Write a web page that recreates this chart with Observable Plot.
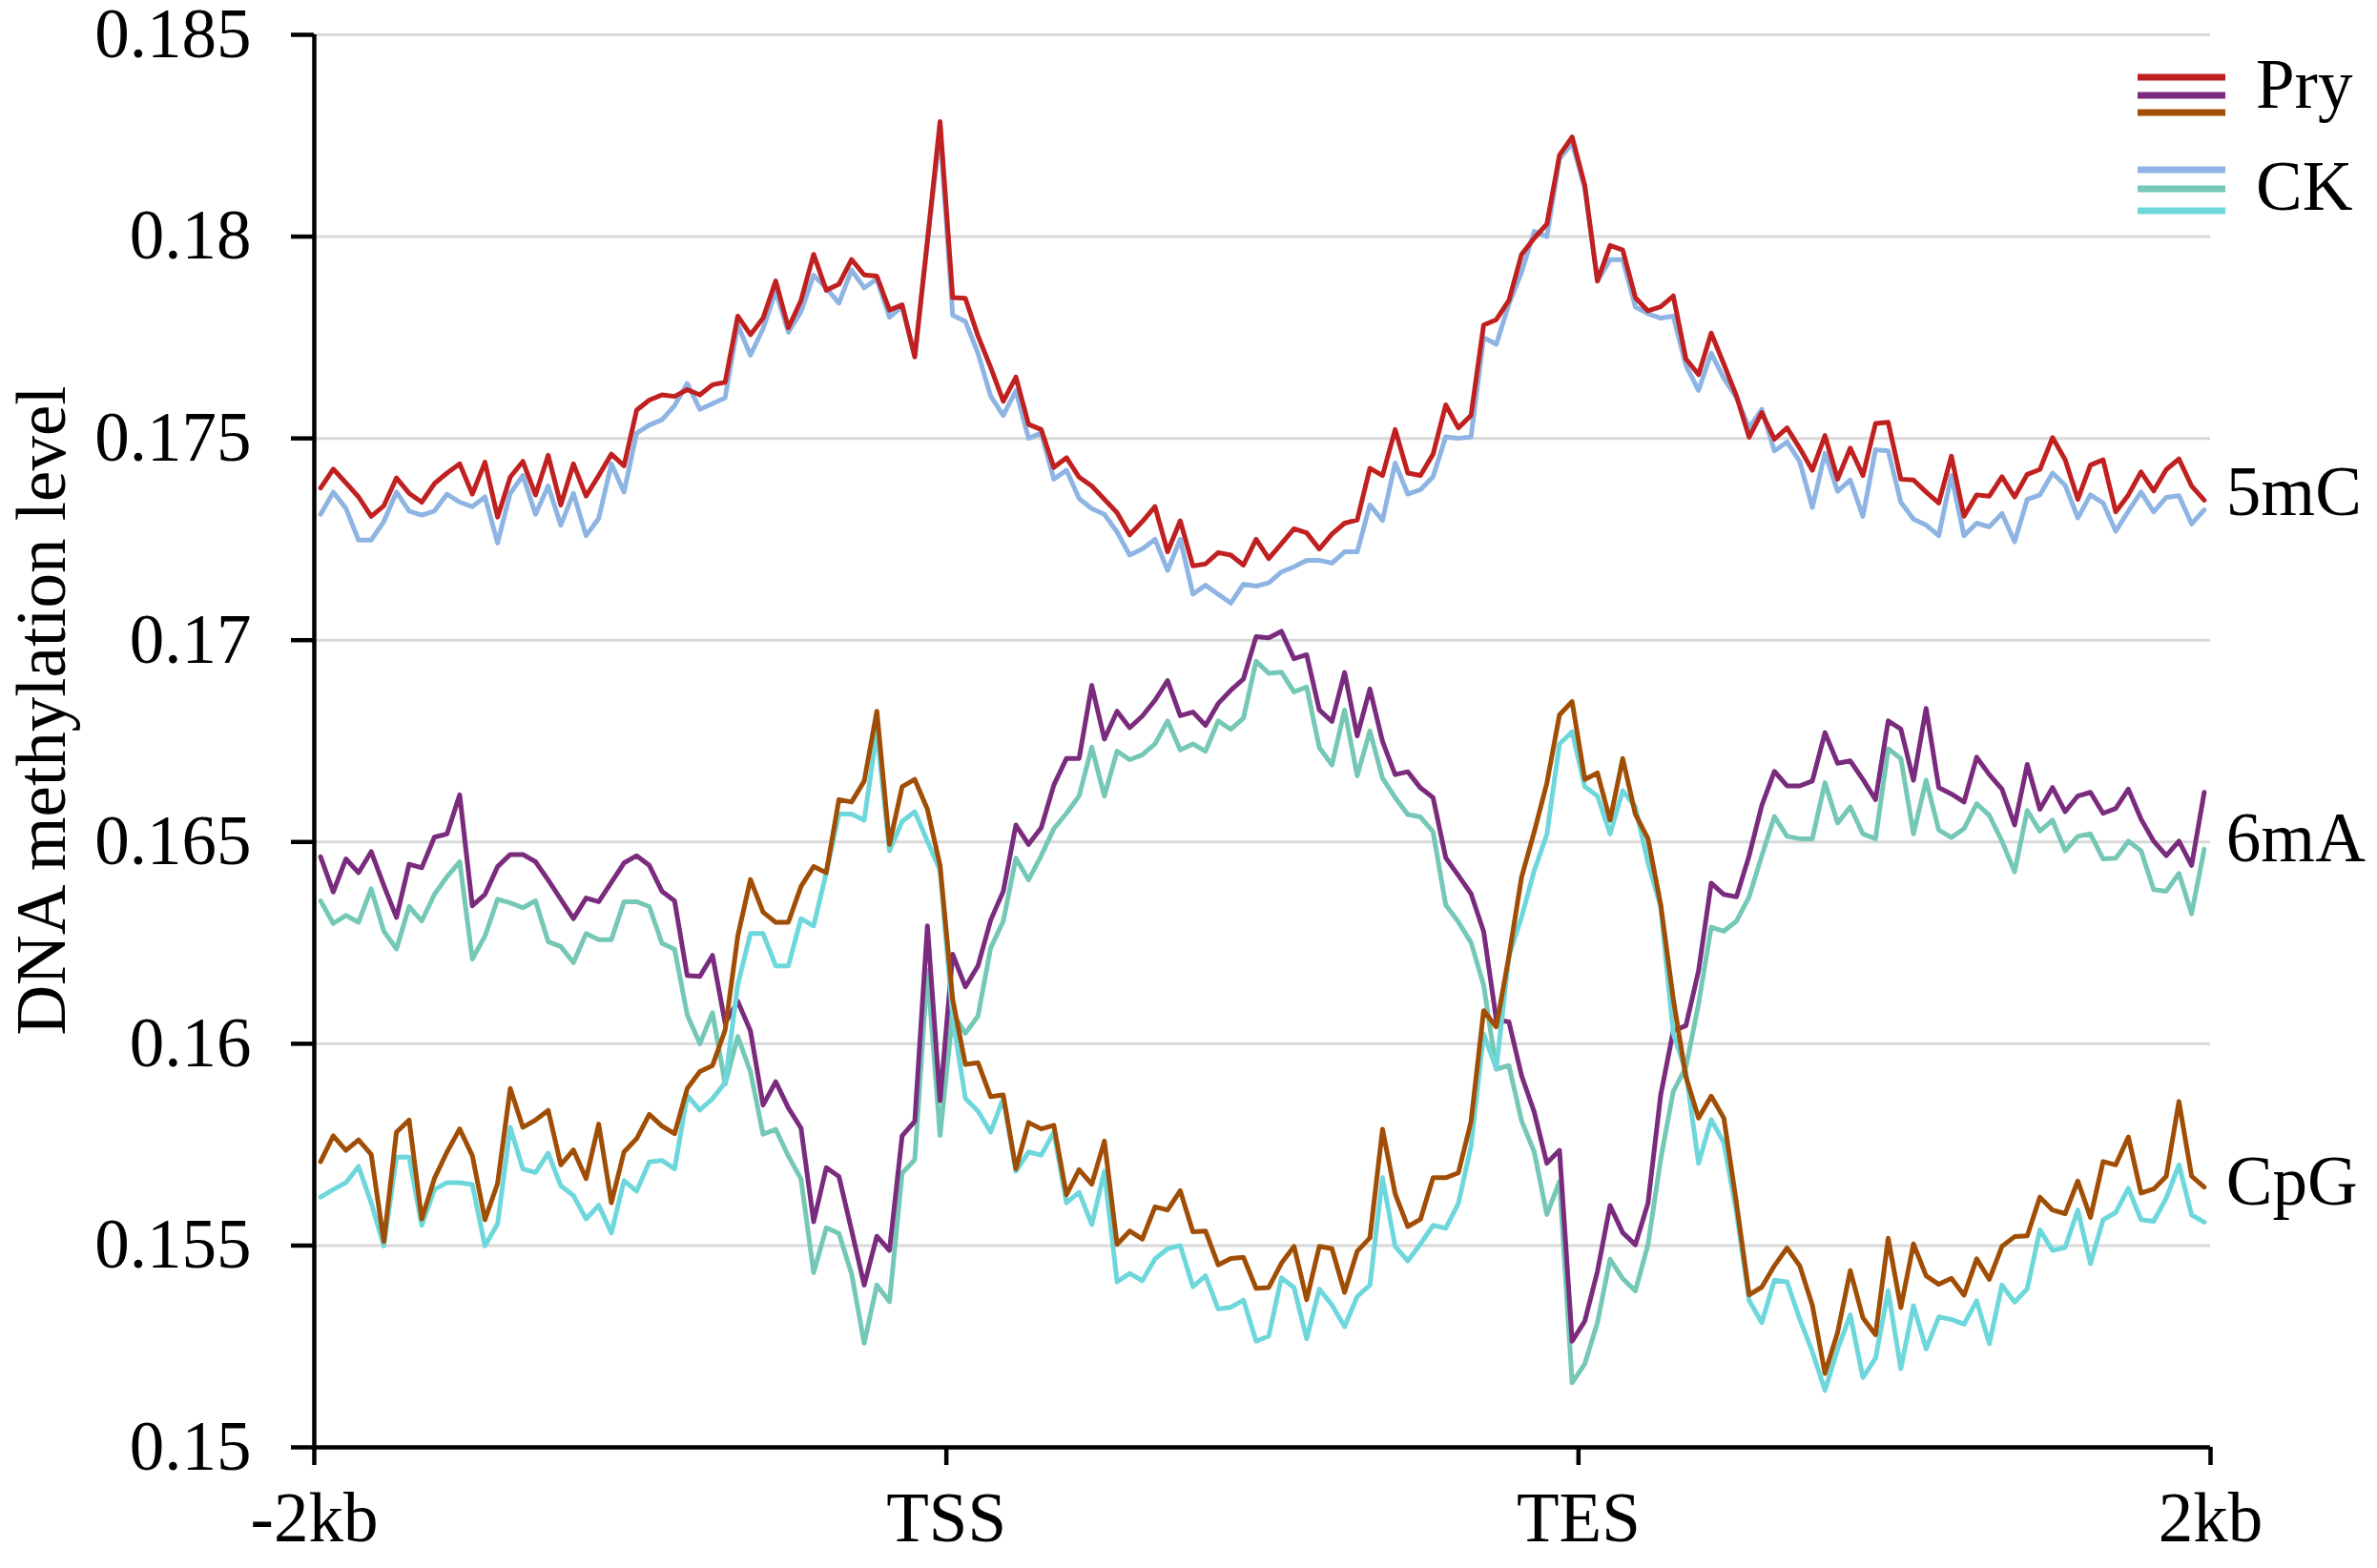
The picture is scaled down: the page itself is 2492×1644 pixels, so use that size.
<!DOCTYPE html>
<html>
<head>
<meta charset="utf-8">
<script src="https://cdn.jsdelivr.net/npm/d3@7"></script>
<script src="https://cdn.jsdelivr.net/npm/@observablehq/plot@0.6"></script>
<style>
  html, body { margin: 0; padding: 0; background: #fff; overflow: hidden; }
  #chart svg { display: block; }
</style>
</head>
<body>
<div id="chart"></div>
<script>
// ---- data ----
// 150 bins: 50 upstream (-2kb..TSS), 50 gene body (TSS..TES), 50 downstream (TES..2kb)
const xTickPositions = [-0.5, 49.5, 99.5, 149.5];
const xTickLabels = ["-2kb", "TSS", "TES", "2kb"];
const yTicks = [0.15, 0.155, 0.16, 0.165, 0.17, 0.175, 0.18, 0.185];
const groupLabels = ["5mC", "6mA", "CpG"];
const legendLabels = ["Pry", "CK"];

const pry5mC = [
  0.17377, 0.17424, 0.17390, 0.17355, 0.17307, 0.17333, 0.17402, 0.17364, 0.17342, 0.17388,
  0.17414, 0.17437, 0.17362, 0.17441, 0.17305, 0.17404, 0.17443, 0.17360, 0.17458, 0.17335,
  0.17437, 0.17357, 0.17408, 0.17461, 0.17432, 0.17570, 0.17595, 0.17608, 0.17604, 0.17621,
  0.17608, 0.17633, 0.17639, 0.17803, 0.17757, 0.17798, 0.17890, 0.17774, 0.17842, 0.17956,
  0.17867, 0.17882, 0.17943, 0.17905, 0.17902, 0.17818, 0.17831, 0.17702, 0.17990, 0.18285,
  0.17849, 0.17847, 0.17754, 0.17676, 0.17592, 0.17652, 0.17535, 0.17522, 0.17428, 0.17452,
  0.17404, 0.17382, 0.17349, 0.17316, 0.17261, 0.17294, 0.17331, 0.17219, 0.17296, 0.17184,
  0.17189, 0.17217, 0.17211, 0.17186, 0.17250, 0.17202, 0.17239, 0.17276, 0.17266, 0.17226,
  0.17263, 0.17290, 0.17298, 0.17426, 0.17408, 0.17522, 0.17414, 0.17408, 0.17461, 0.17583,
  0.17526, 0.17557, 0.17781, 0.17794, 0.17842, 0.17956, 0.17996, 0.18031, 0.18202, 0.18247,
  0.18127, 0.17890, 0.17978, 0.17967, 0.17849, 0.17816, 0.17826, 0.17853, 0.17697, 0.17658,
  0.17761, 0.17684, 0.17605, 0.17503, 0.17564, 0.17498, 0.17526, 0.17476, 0.17421, 0.17507,
  0.17399, 0.17476, 0.17408, 0.17537, 0.17540, 0.17399, 0.17397, 0.17367, 0.17340, 0.17456,
  0.17307, 0.17360, 0.17357, 0.17405, 0.17355, 0.17411, 0.17423, 0.17502, 0.17447, 0.17349,
  0.17434, 0.17447, 0.17318, 0.17360, 0.17417, 0.17370, 0.17423, 0.17449, 0.17382, 0.17347
];
const ck5mC = [
  0.17312, 0.17367, 0.17327, 0.17248, 0.17248, 0.17294, 0.17367, 0.17320, 0.17310, 0.17320,
  0.17362, 0.17342, 0.17331, 0.17355, 0.17241, 0.17364, 0.17408, 0.17312, 0.17382, 0.17285,
  0.17364, 0.17259, 0.17302, 0.17437, 0.17367, 0.17513, 0.17533, 0.17546, 0.17581, 0.17636,
  0.17572, 0.17586, 0.17601, 0.17781, 0.17706, 0.17772, 0.17864, 0.17763, 0.17814, 0.17904,
  0.17873, 0.17835, 0.17917, 0.17873, 0.17895, 0.17800, 0.17827, 0.17702, 0.17985, 0.18260,
  0.17805, 0.17790, 0.17711, 0.17605, 0.17557, 0.17618, 0.17500, 0.17513, 0.17399, 0.17421,
  0.17351, 0.17326, 0.17312, 0.17268, 0.17211, 0.17226, 0.17250, 0.17173, 0.17250, 0.17114,
  0.17136, 0.17114, 0.17092, 0.17139, 0.17134, 0.17142, 0.17169, 0.17182, 0.17198, 0.17198,
  0.17191, 0.17219, 0.17219, 0.17335, 0.17297, 0.17439, 0.17362, 0.17373, 0.17405, 0.17504,
  0.17500, 0.17504, 0.17750, 0.17733, 0.17833, 0.17912, 0.18013, 0.18000, 0.18193, 0.18232,
  0.18120, 0.17890, 0.17943, 0.17943, 0.17826, 0.17809, 0.17798, 0.17803, 0.17680, 0.17619,
  0.17711, 0.17649, 0.17601, 0.17526, 0.17572, 0.17469, 0.17491, 0.17443, 0.17329, 0.17463,
  0.17369, 0.17397, 0.17307, 0.17472, 0.17469, 0.17342, 0.17300, 0.17285, 0.17259, 0.17408,
  0.17259, 0.17290, 0.17281, 0.17314, 0.17244, 0.17349, 0.17360, 0.17414, 0.17384, 0.17303,
  0.17360, 0.17340, 0.17270, 0.17320, 0.17367, 0.17318, 0.17354, 0.17358, 0.17288, 0.17323
];
const pry6mA = [
  0.16463, 0.16376, 0.16458, 0.16424, 0.16476, 0.16392, 0.16313, 0.16445, 0.16436, 0.16512,
  0.16520, 0.16617, 0.16342, 0.16370, 0.16439, 0.16469, 0.16469, 0.16451, 0.16406, 0.16358,
  0.16310, 0.16361, 0.16352, 0.16400, 0.16448, 0.16466, 0.16442, 0.16378, 0.16354, 0.16169,
  0.16167, 0.16219, 0.16051, 0.16105, 0.16032, 0.15848, 0.15906, 0.15841, 0.15791, 0.15559,
  0.15693, 0.15671, 0.15538, 0.15402, 0.15523, 0.15488, 0.15772, 0.15808, 0.16292, 0.15859,
  0.16222, 0.16141, 0.16193, 0.16306, 0.16378, 0.16542, 0.16494, 0.16535, 0.16641, 0.16707,
  0.16707, 0.16888, 0.16755, 0.16824, 0.16783, 0.16812, 0.16851, 0.16900, 0.16813, 0.16822,
  0.16789, 0.16843, 0.16876, 0.16904, 0.17009, 0.17006, 0.17022, 0.16954, 0.16964, 0.16827,
  0.16799, 0.16920, 0.16763, 0.16879, 0.16749, 0.16667, 0.16674, 0.16634, 0.16610, 0.16461,
  0.16417, 0.16372, 0.16278, 0.16060, 0.16054, 0.15921, 0.15831, 0.15704, 0.15736, 0.15263,
  0.15313, 0.15436, 0.15599, 0.15532, 0.15502, 0.15605, 0.15872, 0.16032, 0.16045, 0.16181,
  0.16398, 0.16370, 0.16364, 0.16466, 0.16590, 0.16675, 0.16639, 0.16639, 0.16651, 0.16771,
  0.16695, 0.16701, 0.16655, 0.16605, 0.16800, 0.16780, 0.16653, 0.16831, 0.16635, 0.16619,
  0.16599, 0.16710, 0.16667, 0.16631, 0.16542, 0.16692, 0.16581, 0.16635, 0.16575, 0.16614,
  0.16623, 0.16571, 0.16583, 0.16631, 0.16557, 0.16502, 0.16466, 0.16502, 0.16442, 0.16623
];
const ck6mA = [
  0.16354, 0.16298, 0.16318, 0.16301, 0.16384, 0.16279, 0.16235, 0.16340, 0.16304, 0.16370,
  0.16414, 0.16451, 0.16210, 0.16267, 0.16358, 0.16349, 0.16337, 0.16354, 0.16253, 0.16241,
  0.16201, 0.16273, 0.16258, 0.16258, 0.16352, 0.16352, 0.16340, 0.16249, 0.16234, 0.16072,
  0.16000, 0.16077, 0.15900, 0.16018, 0.15931, 0.15776, 0.15788, 0.15722, 0.15665, 0.15433,
  0.15544, 0.15530, 0.15430, 0.15258, 0.15402, 0.15361, 0.15679, 0.15713, 0.16183, 0.15773,
  0.16075, 0.16026, 0.16069, 0.16237, 0.16304, 0.16460, 0.16406, 0.16466, 0.16533, 0.16571,
  0.16614, 0.16735, 0.16614, 0.16725, 0.16704, 0.16716, 0.16743, 0.16800, 0.16728, 0.16743,
  0.16725, 0.16800, 0.16779, 0.16807, 0.16948, 0.16918, 0.16921, 0.16872, 0.16884, 0.16734,
  0.16691, 0.16827, 0.16664, 0.16775, 0.16658, 0.16610, 0.16568, 0.16562, 0.16525, 0.16344,
  0.16302, 0.16251, 0.16145, 0.15937, 0.15946, 0.15809, 0.15732, 0.15577, 0.15659, 0.15160,
  0.15207, 0.15309, 0.15466, 0.15418, 0.15388, 0.15502, 0.15713, 0.15882, 0.15942, 0.16099,
  0.16289, 0.16279, 0.16304, 0.16364, 0.16466, 0.16563, 0.16514, 0.16508, 0.16508, 0.16647,
  0.16547, 0.16587, 0.16520, 0.16508, 0.16731, 0.16707, 0.16520, 0.16653, 0.16530, 0.16511,
  0.16533, 0.16595, 0.16566, 0.16502, 0.16426, 0.16578, 0.16527, 0.16554, 0.16478, 0.16514,
  0.16520, 0.16458, 0.16460, 0.16502, 0.16478, 0.16382, 0.16378, 0.16422, 0.16322, 0.16482
];
const pryCpG = [
  0.15708, 0.15772, 0.15736, 0.15762, 0.15726, 0.15510, 0.15781, 0.15811, 0.15566, 0.15666,
  0.15732, 0.15789, 0.15723, 0.15564, 0.15654, 0.15889, 0.15793, 0.15811, 0.15835, 0.15700,
  0.15737, 0.15666, 0.15801, 0.15606, 0.15732, 0.15765, 0.15825, 0.15796, 0.15777, 0.15889,
  0.15931, 0.15946, 0.16034, 0.16267, 0.16407, 0.16326, 0.16301, 0.16301, 0.16390, 0.16439,
  0.16424, 0.16605, 0.16599, 0.16651, 0.16824, 0.16494, 0.16637, 0.16655, 0.16581, 0.16442,
  0.16110, 0.15949, 0.15953, 0.15869, 0.15873, 0.15690, 0.15805, 0.15789, 0.15798, 0.15626,
  0.15688, 0.15652, 0.15759, 0.15503, 0.15536, 0.15516, 0.15596, 0.15588, 0.15636, 0.15534,
  0.15536, 0.15452, 0.15468, 0.15471, 0.15394, 0.15396, 0.15456, 0.15498, 0.15366, 0.15498,
  0.15492, 0.15384, 0.15486, 0.15519, 0.15788, 0.15628, 0.15547, 0.15565, 0.15668, 0.15668,
  0.15680, 0.15807, 0.16082, 0.16042, 0.16217, 0.16413, 0.16525, 0.16646, 0.16815, 0.16848,
  0.16655, 0.16671, 0.16554, 0.16707, 0.16569, 0.16508, 0.16346, 0.16111, 0.15918, 0.15816,
  0.15870, 0.15816, 0.15605, 0.15378, 0.15397, 0.15450, 0.15494, 0.15450, 0.15352, 0.15183,
  0.15285, 0.15438, 0.15321, 0.15279, 0.15518, 0.15346, 0.15504, 0.15425, 0.15404, 0.15419,
  0.15377, 0.15467, 0.15416, 0.15498, 0.15522, 0.15524, 0.15620, 0.15588, 0.15579, 0.15660,
  0.15570, 0.15708, 0.15700, 0.15769, 0.15630, 0.15640, 0.15672, 0.15857, 0.15672, 0.15645
];
const ckCpG = [
  0.15620, 0.15639, 0.15656, 0.15696, 0.15606, 0.15499, 0.15719, 0.15719, 0.15550, 0.15639,
  0.15656, 0.15656, 0.15651, 0.15499, 0.15554, 0.15793, 0.15690, 0.15681, 0.15729, 0.15648,
  0.15624, 0.15566, 0.15600, 0.15531, 0.15661, 0.15635, 0.15707, 0.15711, 0.15690, 0.15872,
  0.15836, 0.15864, 0.15904, 0.16147, 0.16273, 0.16273, 0.16193, 0.16193, 0.16310, 0.16292,
  0.16424, 0.16569, 0.16569, 0.16554, 0.16774, 0.16478, 0.16551, 0.16575, 0.16502, 0.16430,
  0.16064, 0.15865, 0.15833, 0.15781, 0.15865, 0.15684, 0.15732, 0.15724, 0.15781, 0.15606,
  0.15632, 0.15552, 0.15684, 0.15410, 0.15431, 0.15413, 0.15467, 0.15492, 0.15500, 0.15398,
  0.15425, 0.15343, 0.15347, 0.15365, 0.15263, 0.15276, 0.15420, 0.15396, 0.15269, 0.15392,
  0.15353, 0.15299, 0.15374, 0.15402, 0.15668, 0.15498, 0.15462, 0.15504, 0.15550, 0.15543,
  0.15604, 0.15746, 0.16024, 0.15939, 0.16217, 0.16314, 0.16429, 0.16519, 0.16743, 0.16773,
  0.16637, 0.16614, 0.16520, 0.16627, 0.16587, 0.16448, 0.16340, 0.16026, 0.15930, 0.15704,
  0.15812, 0.15755, 0.15581, 0.15364, 0.15309, 0.15414, 0.15410, 0.15318, 0.15237, 0.15141,
  0.15243, 0.15328, 0.15173, 0.15221, 0.15388, 0.15195, 0.15351, 0.15244, 0.15323, 0.15317,
  0.15305, 0.15363, 0.15257, 0.15402, 0.15360, 0.15393, 0.15539, 0.15488, 0.15495, 0.15588,
  0.15455, 0.15564, 0.15582, 0.15642, 0.15564, 0.15560, 0.15618, 0.15700, 0.15576, 0.15558
];

// ---- styles ----
const FONT = "'Liberation Serif', 'Times New Roman', serif";
const FS = 73;
const colors = {
  pry5mC: "#c0201f", ck5mC: "#8eb4e3",
  pry6mA: "#7a2b7d", ck6mA: "#74c8b5",
  pryCpG: "#a04e05", ckCpG: "#6dd7dc"
};
const LW = 5;

const series = [
  {data: ck5mC, color: colors.ck5mC},
  {data: pry5mC, color: colors.pry5mC},
  {data: ck6mA, color: colors.ck6mA},
  {data: pry6mA, color: colors.pry6mA},
  {data: ckCpG, color: colors.ckCpG},
  {data: pryCpG, color: colors.pryCpG}
];

// group labels placed beside the line ends
const lastIdx = pry5mC.length - 1;
const labelRows = [
  {label: groupLabels[0], y: (pry5mC[lastIdx] + ck5mC[lastIdx]) / 2, dy: -13},
  {label: groupLabels[1], y: (pry6mA[lastIdx] + ck6mA[lastIdx]) / 2, dy: 19},
  {label: groupLabels[2], y: (pryCpG[lastIdx] + ckCpG[lastIdx]) / 2, dy: -23}
];

const fmt = d3.format(".3~f");

const chart = Plot.plot({
  width: 2492,
  height: 1644,
  marginLeft: 329,
  marginRight: 175,
  marginTop: 36,
  marginBottom: 127,
  style: {fontFamily: FONT, fontSize: FS + "px", background: "#fff", color: "#000"},
  x: {domain: [xTickPositions[0], xTickPositions[3]]},
  y: {domain: [0.15, 0.185]},
  marks: [
    Plot.gridY(yTicks, {stroke: "#d9d9d9", strokeOpacity: 1, strokeWidth: 3}),
    Plot.axisY({
      ticks: yTicks, tickFormat: fmt, tickSize: 24, tickPadding: 42,
      strokeWidth: 4.5, fontSize: FS, label: null
    }),
    Plot.axisX({
      ticks: xTickPositions, tickFormat: (d) => xTickLabels[xTickPositions.indexOf(d)],
      tickSize: 19, tickPadding: 28, strokeWidth: 4.5, fontSize: FS, label: null
    }),
    ...series.map(s => Plot.line(s.data, {
      x: (d, i) => i, y: (d) => d, stroke: s.color, strokeWidth: LW,
      strokeLinejoin: "round", strokeLinecap: "round"
    })),
    Plot.ruleX([xTickPositions[0]], {strokeWidth: 4.5, stroke: "#000"}),
    Plot.ruleY([0.15], {strokeWidth: 4.5, stroke: "#000"}),
    ...labelRows.map(r => Plot.text([r], {
      x: () => lastIdx, y: "y", text: "label", textAnchor: "start",
      dx: 23, dy: r.dy, fontSize: FS, lineAnchor: "middle", fill: "#000"
    })),
    Plot.text(["DNA methylation level"], {
      frameAnchor: "left", textAnchor: "middle", dx: -285, dy: -32,
      rotate: -90, fontSize: FS, fill: "#000"
    })
  ]
});

document.getElementById("chart").appendChild(chart);

// ---- legend (drawn inside the plot area, top right) ----
const svg = d3.select(chart);
const lg = svg.append("g").attr("class", "legend");
const groups = [
  {label: legendLabels[0], cols: [colors.pry5mC, colors.pry6mA, colors.pryCpG], ys: [81, 100, 118], ty: 113},
  {label: legendLabels[1], cols: [colors.ck5mC, colors.ck6mA, colors.ckCpG], ys: [178, 198, 221], ty: 220}
];
groups.forEach(g => {
  g.cols.forEach((c, k) => {
    lg.append("line")
      .attr("x1", 2241).attr("x2", 2333)
      .attr("y1", g.ys[k]).attr("y2", g.ys[k])
      .attr("stroke", c).attr("stroke-width", 7);
  });
  lg.append("text")
    .attr("x", 2365).attr("y", g.ty)
    .attr("text-anchor", "start")
    .attr("font-family", FONT).attr("font-size", FS)
    .attr("fill", "#000")
    .text(g.label);
});
</script>
</body>
</html>
